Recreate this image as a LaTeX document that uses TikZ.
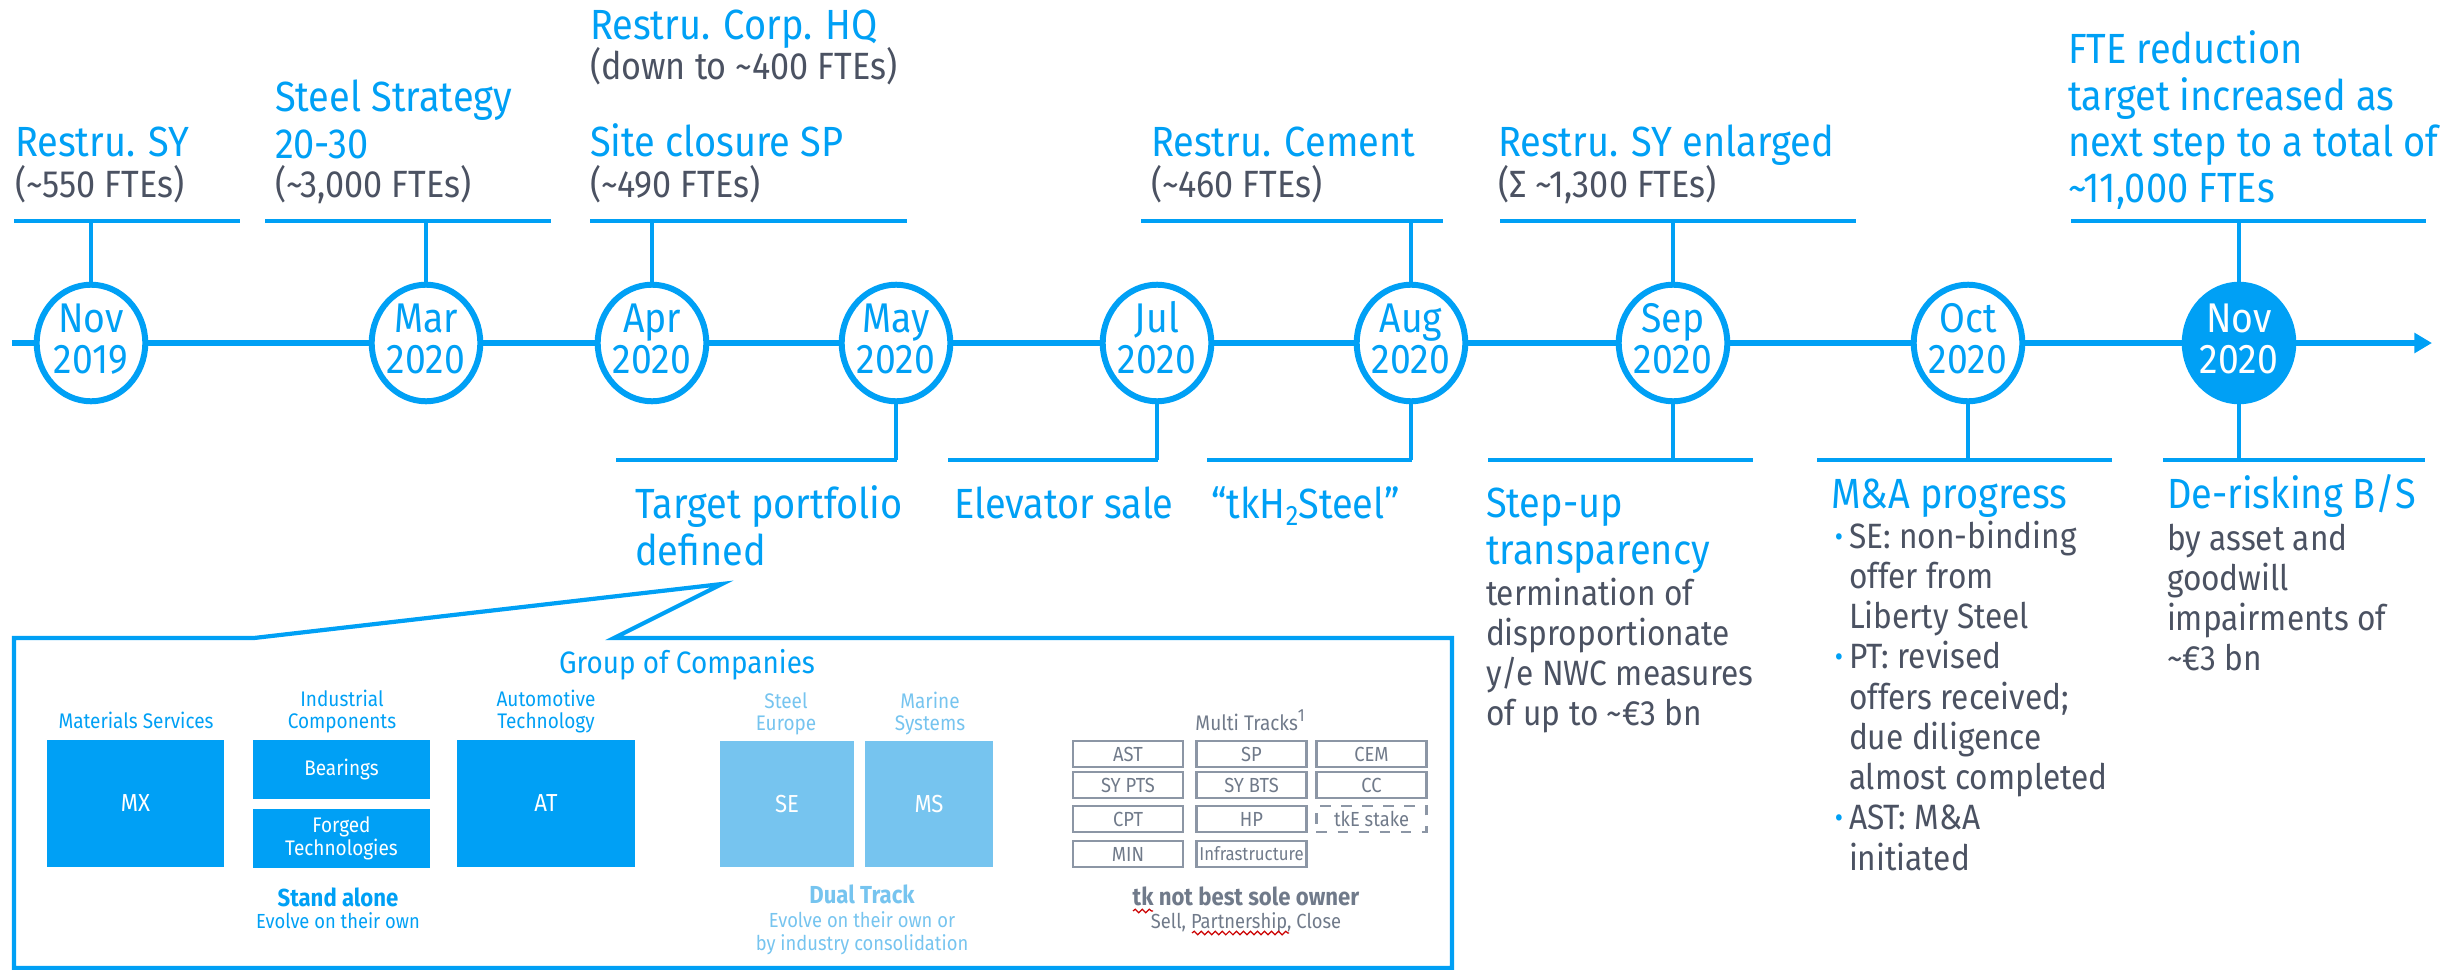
\documentclass[tikz,border=0pt]{standalone}
\usepackage{fontspec}
\setmainfont{Fira Sans}[FakeStretch=0.9]
\usetikzlibrary{shapes.geometric,arrows.meta,decorations.pathmorphing}
\definecolor{tkb}{RGB}{0,160,245}
\definecolor{tkg}{RGB}{75,82,98}
\definecolor{tkl}{RGB}{118,196,239}
\definecolor{tkgg}{RGB}{112,122,138}
\definecolor{tkgb}{RGB}{140,150,165}
\newcommand\Ls[2]{\vtop{\baselineskip=#1\lineskiplimit=-20pt\lineskip=0pt\halign{##\hfil\cr#2\crcr}}}
\newcommand\Cs[2]{\vtop{\baselineskip=#1\lineskiplimit=-20pt\lineskip=0pt\halign{\hfil##\hfil\cr#2\crcr}}}
\newcommand\tld{\textasciitilde}
\begin{document}
\begin{tikzpicture}[x=0.01cm,y=-0.01cm,
  every node/.style={inner sep=0pt,outer sep=0pt},
  ttl/.style={anchor=base west,text=tkb,font=\fontsize{12}{13}\selectfont},
  sub/.style={anchor=base west,text=tkg,font=\fontsize{10}{11}\selectfont},
  subt/.style={anchor=base west,text=tkg,font=\fontsize{10.8}{12}\selectfont},
  datebox/.style={ellipse,draw=tkb,line width=1.7pt,fill=white,minimum width=1.085cm,minimum height=1.165cm},
  dtxt/.style={anchor=base,text=tkb,font=\fontsize{11.8}{12}\selectfont},
  bar/.style={draw=tkb,line width=1.3pt},
  stem/.style={draw=tkb,line width=1pt},
  tline/.style={draw=tkb,line width=1.6pt,-{Triangle[length=5pt,width=5.5pt]}},
  cbox/.style={fill=tkb,text=white,font=\fontsize{7}{8}\selectfont},
  cboxs/.style={fill=tkb,text=white,font=\fontsize{6}{7}\selectfont},
  lbox/.style={fill=tkl,text=white,font=\fontsize{7}{8}\selectfont},
  gbox/.style={draw=tkgb,line width=0.6pt,text=tkgg,font=\fontsize{5.8}{6}\selectfont,minimum width=1.1cm,minimum height=0.26cm},
  sml/.style={anchor=base,text=tkb,font=\fontsize{6}{7}\selectfont},
  smll/.style={anchor=base,text=tkl,font=\fontsize{6}{7}\selectfont},
  bul/.style={anchor=base,text=tkb,font=\fontsize{8}{9}\selectfont},
  squig/.style={draw=red!80!black,line width=0.35pt,decorate,decoration={snake,amplitude=0.5pt,segment length=2pt}}
]
\useasboundingbox (0,0) rectangle (2463,970);

% timeline
\coordinate (tl0) at (12,343);
\coordinate (tl1) at (2432,343);
\draw[tline] (tl0) -- (tl1);

% date ellipses
\node[datebox] (e1) at (91,343) {};
\node[datebox] (e2) at (426,343) {};
\node[datebox] (e3) at (652,343) {};
\node[datebox] (e4) at (896,343) {};
\node[datebox] (e5) at (1157,343) {};
\node[datebox] (e6) at (1411,343) {};
\node[datebox] (e7) at (1673,343) {};
\node[datebox] (e8) at (1968,343) {};
\node[datebox,fill=tkb] (e9) at (2239,343) {};

\node[dtxt] (m1) at (91,333) {\Cs{11.38pt}{Nov\cr 2019}};
\node[dtxt] (m2) at (426,333) {\Cs{11.38pt}{Mar\cr 2020}};
\node[dtxt] (m3) at (652,333) {\Cs{11.38pt}{Apr\cr 2020}};
\node[dtxt] (m4) at (896,333) {\Cs{11.38pt}{May\cr 2020}};
\node[dtxt] (m5) at (1157,333) {\Cs{11.38pt}{Jul\cr 2020}};
\node[dtxt] (m6) at (1411,333) {\Cs{11.38pt}{Aug\cr 2020}};
\node[dtxt] (m7) at (1673,333) {\Cs{11.38pt}{Sep\cr 2020}};
\node[dtxt] (m8) at (1968,333) {\Cs{11.38pt}{Oct\cr 2020}};
\node[dtxt,text=white] (m9) at (2239,333) {\Cs{11.38pt}{Nov\cr 2020}};

% top bars and stems
\coordinate (u1l) at (14,221);   \coordinate (u1r) at (240,221);
\coordinate (u2l) at (265,221);  \coordinate (u2r) at (551,221);
\coordinate (u3l) at (590,221);  \coordinate (u3r) at (907,221);
\coordinate (u6l) at (1141,221); \coordinate (u6r) at (1443,221);
\coordinate (u7l) at (1500,221); \coordinate (u7r) at (1856,221);
\coordinate (u9l) at (2071,221); \coordinate (u9r) at (2426,221);
\foreach \i in {1,2,3,6,7,9} {
  \draw[bar] (u\i l) -- (u\i r);
  \draw[stem] (e\i.north) -- (e\i.north |- u\i l);
}

% bottom bars and stems
\coordinate (d4l) at (616,460);  \coordinate (d4r) at (897,460);
\coordinate (d5l) at (948,460);  \coordinate (d5r) at (1158,460);
\coordinate (d6l) at (1207,460); \coordinate (d6r) at (1412,460);
\coordinate (d7l) at (1488,460); \coordinate (d7r) at (1753,460);
\coordinate (d8l) at (1817,460); \coordinate (d8r) at (2112,460);
\coordinate (d9l) at (2163,460); \coordinate (d9r) at (2425,460);
\foreach \i in {4,5,6,7,8,9} {
  \draw[bar] (d\i l) -- (d\i r);
  \draw[stem] (e\i.south) -- (e\i.south |- d\i l);
}

% top texts
\node[ttl] (t1a) at (15,157) {Restru. SY};
\node[subt] (t1b) at (15,198) {(\tld550 FTEs)};
\node[ttl] (t2a) at (275,112) {\Ls{13.09pt}{Steel Strategy\cr 20-30}};
\node[subt] (t2b) at (275,198) {(\tld3,000 FTEs)};
\node[ttl] (t3a) at (590,40) {Restru. Corp. HQ};
\node[subt] (t3b) at (590,80) {(down to \tld400 FTEs)};
\node[ttl] (t3c) at (590,157) {Site closure SP};
\node[subt] (t3d) at (590,198) {(\tld490 FTEs)};
\node[ttl] (t6a) at (1151,157) {Restru. Cement};
\node[subt] (t6b) at (1151,198) {(\tld460 FTEs)};
\node[ttl] (t7a) at (1498,157) {Restru. SY enlarged};
\node[subt] (t7b) at (1498,198) {(Σ \tld1,300 FTEs)};
\node[ttl] (t9a) at (2068,64) {\Ls{13.09pt}{FTE reduction\cr target increased as\cr next step to a total of\cr \tld11,000 FTEs}};

% bottom texts
\node[ttl] (b4) at (635,518) {\Ls{13.37pt}{Target portfolio\cr defined}};
\node[ttl] (b5) at (954,518) {Elevator sale};
\node[ttl] (b6) at (1211,518) {“tkH\raisebox{-0.35ex}{\fontsize{8}{8}\selectfont 2}Steel”};
\node[ttl] (b7a) at (1486,517) {\Ls{13.37pt}{Step-up\cr transparency}};
\node[sub] (b7b) at (1486,605) {\Ls{11.38pt}{termination of\cr disproportionate\cr y/e NWC measures\cr of up to \tld€3 bn}};
\node[ttl] (b8a) at (1831,508) {M\&A progress};
\node[sub] (b8b) at (1849,548) {\Ls{11.45pt}{SE: non-binding\cr offer from\cr Liberty Steel\cr PT: revised\cr offers received;\cr due diligence\cr almost completed\cr AST: M\&A\cr initiated}};
\node[bul] (bu1) at (1839,546) {•};
\node[bul] (bu2) at (1839,666.75) {•};
\node[bul] (bu3) at (1839,827.75) {•};
\node[ttl] (b9a) at (2167,508) {De-risking B/S};
\node[sub] (b9b) at (2167,550) {\Ls{11.38pt}{by asset and\cr goodwill\cr impairments of\cr \tld€3 bn}};

% callout box
\draw[tkb,line width=1.2pt,line join=miter] (14,638) -- (254,638) -- (722,584) -- (614,638) -- (1452,638) -- (1452,968) -- (14,968) -- cycle;

\node[anchor=base,text=tkb,font=\fontsize{8.8}{10}\selectfont] (goc) at (687,673) {Group of Companies};

% stand alone
\node[sml] (hmx) at (136,728) {Materials Services};
\node[sml] (hic) at (342,706) {\Cs{6.26pt}{Industrial\cr Components}};
\node[sml] (hat) at (546,706) {\Cs{6.26pt}{Automotive\cr Technology}};
\node[cbox,minimum width=1.77cm,minimum height=1.27cm] (mx) at (135.5,803.5) {MX};
\node[cboxs,minimum width=1.77cm,minimum height=0.59cm] (br) at (341.5,769.5) {Bearings};
\node[cboxs,minimum width=1.77cm,minimum height=0.59cm] (fg) at (341.5,838.5) {\Cs{6.54pt}{Forged\cr Technologies}};
\node[cbox,minimum width=1.78cm,minimum height=1.27cm] (at) at (546,803.5) {AT};
\node[anchor=base,text=tkb,font=\bfseries\fontsize{7}{8}\selectfont] (sa) at (338,906) {Stand alone};
\node[sml,font=\fontsize{5.8}{7}\selectfont] (sab) at (338,928) {Evolve on their own};

% dual track
\node[smll] (hse) at (786,708) {\Cs{6.26pt}{Steel\cr Europe}};
\node[smll] (hms) at (930,708) {\Cs{6.26pt}{Marine\cr Systems}};
\node[lbox,minimum width=1.34cm,minimum height=1.26cm] (se) at (787,804) {SE};
\node[lbox,minimum width=1.28cm,minimum height=1.26cm] (ms) at (929,804) {MS};
\node[anchor=base,text=tkl,font=\bfseries\fontsize{7}{8}\selectfont] (dt) at (862,903) {Dual Track};
\node[smll,font=\fontsize{5.8}{7}\selectfont] (dtb) at (862,927) {\Cs{6.54pt}{Evolve on their own or\cr by industry consolidation}};

% multi tracks
\node[anchor=base,text=tkgg,font=\fontsize{6}{7}\selectfont] (mt) at (1251,730) {Multi Tracks\textsuperscript{1}};
\node[gbox] (g11) at (1128,754) {AST};
\node[gbox] (g12) at (1251.5,754) {SP};
\node[gbox] (g13) at (1371.5,754) {CEM};
\node[gbox] (g21) at (1128,785) {SY PTS};
\node[gbox] (g22) at (1251.5,785) {SY BTS};
\node[gbox] (g23) at (1371.5,785) {CC};
\node[gbox] (g31) at (1128,819) {CPT};
\node[gbox] (g32) at (1251.5,819) {HP};
\node[gbox,dashed] (g33) at (1371.5,819) {tkE stake};
\node[gbox] (g41) at (1128,854) {MIN};
\node[gbox,font=\fontsize{5.3}{6}\selectfont] (g42) at (1251.5,854) {Infrastructure};
\node[anchor=base,text=tkgg,font=\bfseries\fontsize{7}{8}\selectfont] (nb) at (1246,905) {tk not best sole owner};
\node[anchor=base,text=tkgg,font=\fontsize{5.8}{7}\selectfont] (sp) at (1246,928) {Sell, Partnership, Close};
\draw[squig] (1133,911) -- (1153,911);
\draw[squig] (1192,933) -- (1289,933);
\end{tikzpicture}
\end{document}
